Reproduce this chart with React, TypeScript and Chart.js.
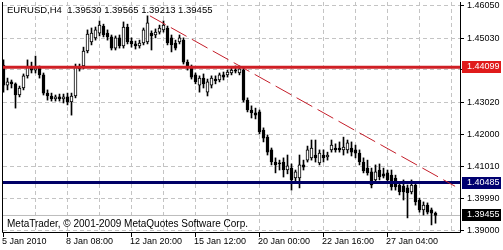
import React, { useEffect, useRef } from "react";
import { Chart, registerables } from "chart.js";

Chart.register(...registerables);

// ---- Data (EURUSD, H4) ----
const opens = [
  1.4417, 1.4354, 1.4364, 1.4358, 1.4323, 1.4345, 1.4383, 1.4414, 1.4401, 1.4408,
  1.4386, 1.4329, 1.4320, 1.4311, 1.4317, 1.4311, 1.4317, 1.4301, 1.4320, 1.4411,
  1.4414, 1.4461, 1.4489, 1.4502, 1.4517, 1.4539, 1.4517, 1.4505, 1.4470, 1.4502,
  1.4477, 1.4536, 1.4492, 1.4483, 1.4477, 1.4486, 1.4489, 1.4517, 1.4511, 1.4520,
  1.4527, 1.4533, 1.4502, 1.4486, 1.4489, 1.4495, 1.4426, 1.4411, 1.4386, 1.4354,
  1.4376, 1.4332, 1.4354, 1.4373, 1.4370, 1.4386, 1.4386, 1.4392, 1.4401, 1.4392,
  1.4401, 1.4307, 1.4276, 1.4267, 1.4270, 1.4213, 1.4191, 1.4151, 1.4113, 1.4110,
  1.4113, 1.4088, 1.4094, 1.4063, 1.4063, 1.4104, 1.4119, 1.4126, 1.4135, 1.4110,
  1.4135, 1.4129, 1.4151, 1.4157, 1.4157, 1.4151, 1.4151, 1.4157, 1.4151, 1.4141,
  1.4113, 1.4094, 1.4082, 1.4057, 1.4088, 1.4076, 1.4079, 1.4072, 1.4063, 1.4041,
  1.4038, 1.4032, 1.4019, 1.4041, 1.3994, 1.3963, 1.3978, 1.3963, 1.3953,
];
const highs = [
  1.4433, 1.4376, 1.4370, 1.4361, 1.4351, 1.4389, 1.4433, 1.4426, 1.4445, 1.4414,
  1.4392, 1.4339, 1.4329, 1.4323, 1.4326, 1.4326, 1.4329, 1.4329, 1.4420, 1.4420,
  1.4473, 1.4527, 1.4533, 1.4536, 1.4555, 1.4545, 1.4527, 1.4511, 1.4508, 1.4511,
  1.4552, 1.4545, 1.4502, 1.4492, 1.4495, 1.4533, 1.4571, 1.4524, 1.4530, 1.4542,
  1.4555, 1.4539, 1.4511, 1.4495, 1.4511, 1.4502, 1.4433, 1.4417, 1.4392, 1.4383,
  1.4389, 1.4373, 1.4383, 1.4383, 1.4392, 1.4395, 1.4401, 1.4408, 1.4414, 1.4414,
  1.4411, 1.4314, 1.4289, 1.4282, 1.4276, 1.4220, 1.4198, 1.4157, 1.4126, 1.4119,
  1.4126, 1.4135, 1.4107, 1.4088, 1.4135, 1.4119, 1.4163, 1.4182, 1.4182, 1.4151,
  1.4151, 1.4144, 1.4182, 1.4170, 1.4176, 1.4191, 1.4182, 1.4176, 1.4166, 1.4151,
  1.4126, 1.4119, 1.4094, 1.4104, 1.4107, 1.4094, 1.4088, 1.4088, 1.4072, 1.4050,
  1.4057, 1.4041, 1.4057, 1.4050, 1.4000, 1.3988, 1.3985, 1.3969, 1.39565,
];
const lows = [
  1.4332, 1.4339, 1.4345, 1.4282, 1.4317, 1.4339, 1.4376, 1.4392, 1.4392, 1.4376,
  1.4323, 1.4307, 1.4304, 1.4304, 1.4304, 1.4298, 1.4292, 1.4260, 1.4314, 1.4398,
  1.4405, 1.4455, 1.4480, 1.4495, 1.4508, 1.4505, 1.4495, 1.4464, 1.4464, 1.4470,
  1.4470, 1.4483, 1.4473, 1.4467, 1.4470, 1.4480, 1.4483, 1.4464, 1.4502, 1.4514,
  1.4520, 1.4480, 1.4458, 1.4464, 1.4483, 1.4420, 1.4401, 1.4373, 1.4358, 1.4332,
  1.4345, 1.4320, 1.4345, 1.4358, 1.4364, 1.4370, 1.4379, 1.4386, 1.4392, 1.4386,
  1.4301, 1.4270, 1.4251, 1.4248, 1.4201, 1.4176, 1.4135, 1.4104, 1.4079, 1.4088,
  1.4066, 1.4076, 1.4025, 1.4050, 1.4032, 1.4088, 1.4113, 1.4119, 1.4113, 1.4104,
  1.4113, 1.4119, 1.4144, 1.4144, 1.4144, 1.4135, 1.4141, 1.4132, 1.4126, 1.4104,
  1.4079, 1.4072, 1.4032, 1.4050, 1.4057, 1.4063, 1.4047, 1.4025, 1.4025, 1.4010,
  1.3994, 1.3938, 1.4013, 1.3978, 1.3956, 1.3947, 1.3950, 1.3916, 1.39213,
];
const closes = [
  1.4354, 1.4364, 1.4358, 1.4323, 1.4345, 1.4383, 1.4414, 1.4401, 1.4408, 1.4386,
  1.4329, 1.4320, 1.4311, 1.4317, 1.4311, 1.4317, 1.4301, 1.4320, 1.4411, 1.4405,
  1.4461, 1.4514, 1.4517, 1.4527, 1.4542, 1.4511, 1.4505, 1.4470, 1.4502, 1.4477,
  1.4536, 1.4489, 1.4483, 1.4477, 1.4486, 1.4527, 1.4549, 1.4508, 1.4520, 1.4533,
  1.4542, 1.4486, 1.4480, 1.4470, 1.4502, 1.4426, 1.4408, 1.4379, 1.4364, 1.4376,
  1.4358, 1.4364, 1.4376, 1.4367, 1.4386, 1.4379, 1.4395, 1.4401, 1.4398, 1.4405,
  1.4307, 1.4276, 1.4267, 1.4260, 1.4207, 1.4188, 1.4144, 1.4113, 1.4104, 1.4107,
  1.4088, 1.4101, 1.4057, 1.4082, 1.4104, 1.4097, 1.4151, 1.4157, 1.4126, 1.4141,
  1.4126, 1.4135, 1.4166, 1.4151, 1.4151, 1.4160, 1.4173, 1.4144, 1.4141, 1.4113,
  1.4085, 1.4079, 1.4041, 1.4082, 1.4066, 1.4069, 1.4057, 1.4035, 1.4035, 1.4019,
  1.4019, 1.4016, 1.4041, 1.3988, 1.3963, 1.3978, 1.3956, 1.3953, 1.39455,
];

const xTickIndices = [0, 16, 32, 48, 64, 80, 96];
const xTickLabels = [
  "5 Jan 2010", "8 Jan 08:00", "12 Jan 20:00", "15 Jan 12:00",
  "20 Jan 00:00", "22 Jan 16:00", "27 Jan 04:00",
];
const yTickValues = [1.4605, 1.4503, 1.4403, 1.4302, 1.42, 1.4101, 1.3999, 1.39];
const yTickLabels = ["1.46050", "1.45030", "1.44030", "1.43020", "1.42000", "1.41010", "1.39990", "1.39000"];

const resistanceLevel = 1.44099;
const supportLevel = 1.40485;
const bidLevel = 1.39455;
const trendStart = { x: 36.6, y: 1.4571 };
const trendEnd = { x: 112.9, y: 1.4037 };

const titleText = "EURUSD,H4  1.39530 1.39565 1.39213 1.39455";
const copyrightText = "MetaTrader, \u00a9 2001-2009 MetaQuotes Software Corp.";

const X_MIN = -0.125;
const X_MAX = 114.125;
const Y_MIN = 1.38938;
const Y_MAX = 1.46144;
const FONT = '9px "Liberation Sans", Arial, sans-serif';
const TITLE_FONT = '9.5px "Liberation Sans", Arial, sans-serif';
const COPY_FONT = '10px "Liberation Sans", Arial, sans-serif';

const overlay = {
  id: "mtOverlay",
  beforeDatasetsDraw(chart: any) {
    const { ctx, chartArea: a, scales } = chart;
    const x = scales.x, y = scales.y;
    ctx.save();
    ctx.strokeStyle = "#c4c4c4";
    ctx.lineWidth = 1;
    ctx.setLineDash([4, 3]);
    const first = xTickIndices[0];
    const step = (xTickIndices[1] - xTickIndices[0]) / 2;
    for (let i = first + step; x.getPixelForValue(i) < a.right - 2; i += step) {
      const px = Math.floor(x.getPixelForValue(i)) + 0.5;
      ctx.beginPath();
      ctx.moveTo(px, a.top);
      ctx.lineTo(px, a.bottom);
      ctx.stroke();
    }
    for (const v of yTickValues) {
      const py = Math.round(y.getPixelForValue(v)) + 0.5;
      ctx.beginPath();
      ctx.moveTo(a.left, py);
      ctx.lineTo(a.right, py);
      ctx.stroke();
    }
    ctx.restore();
  },
  afterDraw(chart: any) {
    const { ctx, chartArea: a, scales } = chart;
    const x = scales.x, y = scales.y;
    ctx.save();
    ctx.setLineDash([]);
    ctx.strokeStyle = "#000";
    ctx.lineWidth = 1;
    // frame
    ctx.beginPath();
    ctx.moveTo(a.left - 0.5, a.top);
    ctx.lineTo(a.left - 0.5, a.bottom + 0.5);
    ctx.lineTo(a.right + 0.5, a.bottom + 0.5);
    ctx.lineTo(a.right + 0.5, a.top);
    ctx.stroke();
    ctx.font = FONT;
    ctx.fillStyle = "#000";
    ctx.textBaseline = "middle";
    ctx.textAlign = "left";
    // x ticks & labels
    xTickIndices.forEach((idx, k) => {
      const px = Math.floor(x.getPixelForValue(idx)) + 0.5;
      ctx.beginPath();
      ctx.moveTo(px, a.bottom);
      ctx.lineTo(px, a.bottom + 5);
      ctx.stroke();
      ctx.fillText(xTickLabels[k], px - 1.5, a.bottom + 10);
    });
    // y ticks & labels
    yTickValues.forEach((v, k) => {
      const py = Math.round(y.getPixelForValue(v)) + 0.5;
      ctx.beginPath();
      ctx.moveTo(a.right, py);
      ctx.lineTo(a.right + 4, py);
      ctx.stroke();
      ctx.fillText(yTickLabels[k], a.right + 7, py);
    });
    // price boxes
    const box = (v: number, bg: string) => {
      const py = y.getPixelForValue(v);
      ctx.fillStyle = bg;
      ctx.fillRect(a.right + 2, Math.round(py) - 6, 39, 12);
      ctx.fillStyle = "#fff";
      ctx.fillText(v.toFixed(5), a.right + 7, Math.round(py));
    };
    box(resistanceLevel, "#e01b1b");
    box(supportLevel, "#000070");
    box(bidLevel, "#000");
    // texts
    ctx.fillStyle = "#000";
    ctx.font = TITLE_FONT;
    ctx.fillText(titleText, 7, 10);
    ctx.font = COPY_FONT;
    ctx.fillText(copyrightText, 7, 224);
    ctx.restore();
  },
};

export default function App() {
  const ref = useRef<HTMLCanvasElement | null>(null);
  useEffect(() => {
    document.body.style.margin = "0";
    if (!ref.current) return;
    const bodies = opens.map((o, i) => ({ x: i, y: [o, closes[i]] }));
    const wicks = lows.map((l, i) => ({ x: i, y: [l, highs[i]] }));
    const hline = (v: number) => [{ x: X_MIN, y: v }, { x: X_MAX, y: v }];
    const chart = new Chart(ref.current, {
      type: "bar",
      data: {
        datasets: [
          {
            type: "line",
            data: [trendStart, trendEnd],
            borderColor: "#c41e2a",
            borderWidth: 1,
            borderDash: [18, 6],
            pointRadius: 0,
          } as any,
          {
            type: "line",
            data: hline(resistanceLevel),
            borderColor: "#cf1f25",
            borderWidth: 3,
            pointRadius: 0,
          } as any,
          {
            type: "line",
            data: hline(supportLevel),
            borderColor: "#000066",
            borderWidth: 3,
            pointRadius: 0,
          } as any,
          {
            type: "bar",
            data: bodies,
            backgroundColor: opens.map((o, i) => (closes[i] >= o ? "#ffffff" : "#000000")),
            borderColor: "#000",
            borderWidth: 1,
            borderSkipped: false,
            barThickness: 3,
            minBarLength: 1,
            grouped: false,
          } as any,
          {
            type: "bar",
            data: wicks,
            backgroundColor: "#000",
            borderWidth: 0,
            barThickness: 1,
            grouped: false,
          } as any,
          {
            type: "line",
            data: hline(bidLevel),
            borderColor: "#bdbdbd",
            borderWidth: 1,
            pointRadius: 0,
          } as any,
        ],
      },
      options: {
        animation: false,
        responsive: false,
        maintainAspectRatio: false,
        events: [],
        layout: { padding: { left: 3, top: 2, right: 43, bottom: 18 } },
        plugins: { legend: { display: false }, tooltip: { enabled: false } },
        scales: {
          x: { type: "linear", display: false, min: X_MIN, max: X_MAX, offset: false },
          y: { type: "linear", display: false, min: Y_MIN, max: Y_MAX },
        },
      } as any,
      plugins: [overlay],
    });
    return () => chart.destroy();
  }, []);
  return (
    <div style={{ width: 503, height: 250, background: "#fff" }}>
      <canvas ref={ref} width={503} height={250} style={{ display: "block" }} />
    </div>
  );
}
